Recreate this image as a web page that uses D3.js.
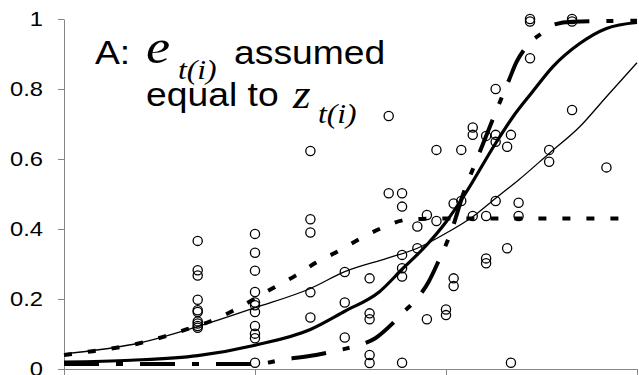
<!DOCTYPE html>
<html lang="en">
<head>
<meta charset="utf-8">
<style>
  body { margin: 0; background: white; }
  svg { background: white; }
  .axis line, .axis path { stroke: #868686; }
  .axis text { font-family: 'Liberation Sans', Arial, sans-serif; font-size: 21px; fill: black; }
  .label { font-family: 'Liberation Sans', Arial, sans-serif; font-size: 33px; fill: black; }
  .math { font-family: 'Liberation Serif', 'Times New Roman', serif; font-style: italic; fill: black; }
</style>
</head>
<body>
<svg width="639" height="375"></svg>
<script src="https://cdn.jsdelivr.net/npm/d3@7"></script>
<script>
// tick values (the x axis has no labels)
const xTicks = [0, 1, 2, 3]
const yTicks = [0, 0.2, 0.4, 0.6, 0.8, 1]

// observed points, one column per x position
const obsX = [0.70, 1.00, 1.29, 1.47, 1.60, 1.70, 1.77, 1.85, 1.90, 1.95, 2.00, 2.04, 2.08,
              2.14, 2.21, 2.26, 2.32, 2.34, 2.38, 2.44, 2.54, 2.66, 2.84]
const obsY = [
  [0.366, 0.282, 0.267, 0.198, 0.168, 0.163, 0.136, 0.130, 0.123, 0.118],
  [0.386, 0.332, 0.281, 0.220, 0.190, 0.182, 0.163, 0.123, 0.101, 0.088, 0.018],
  [0.623, 0.428, 0.390, 0.219, 0.147],
  [0.277, 0.190, 0.090],
  [0.259, 0.159, 0.142, 0.040, 0.017],
  [0.723, 0.502],
  [0.502, 0.464, 0.326, 0.288, 0.264, 0.018],
  [0.407, 0.345],
  [0.440, 0.142],
  [0.626, 0.423],
  [0.170, 0.154],
  [0.473, 0.259, 0.237],
  [0.626, 0.480],
  [0.690, 0.669, 0.437],
  [0.666, 0.437, 0.316, 0.302],
  [0.800, 0.669, 0.649, 0.480],
  [0.635, 0.345],
  [0.669, 0.018],
  [0.475, 0.437],
  [1.000, 0.993, 0.888],
  [0.626, 0.592],
  [1.000, 0.993, 0.740],
  [0.576]
]

// fitted curves
const thinX = [0, 0.4, 0.70, 1.0, 1.29, 1.47, 1.69, 1.85, 2.0, 2.14, 2.26, 2.38, 2.54, 2.70, 2.84, 3.0]
const thinY = [0.043, 0.075, 0.121, 0.175, 0.230, 0.278, 0.316, 0.345, 0.388, 0.435, 0.488, 0.540, 0.616, 0.692, 0.778, 0.875]

const thickX = [0, 0.35, 0.70, 1.0, 1.29, 1.47, 1.65, 1.77, 1.90, 2.0, 2.10, 2.26, 2.35, 2.45, 2.56, 2.70, 2.84, 3.0]
const thickY = [0.020, 0.025, 0.038, 0.068, 0.113, 0.165, 0.220, 0.285, 0.355, 0.420, 0.500, 0.645, 0.720, 0.790, 0.864, 0.930, 0.973, 0.990]

const dotX = [0, 0.15, 0.39, 0.52, 0.64, 0.76, 0.88, 1.09, 1.21, 1.32, 1.43, 1.54, 1.66, 1.79, 1.95, 2.95]
const dotY = [0.040, 0.051, 0.073, 0.092, 0.113, 0.135, 0.165, 0.230, 0.266, 0.304, 0.335, 0.369, 0.402, 0.426, 0.430, 0.430]

const dashDotX = [0, 1.0, 1.15, 1.32, 1.45, 1.55, 1.63, 1.72, 1.78, 1.83, 1.91, 1.96, 2.03, 2.09, 2.16, 2.25, 2.33, 2.37, 2.42, 2.53, 2.56, 2.66, 3.0]
const dashDotY = [0.014, 0.014, 0.027, 0.040, 0.055, 0.069, 0.088, 0.130, 0.164, 0.190, 0.250, 0.307, 0.397, 0.500, 0.597, 0.720, 0.826, 0.878, 0.920, 0.970, 0.983, 0.992, 0.995]

const width = 639
const height = 375
const margin = { top: 19, right: 2, bottom: 6, left: 64 }
const stretch = 1.13 // the original picture is a little wider than tall

const svg = d3.select("svg")

const x = d3.scaleLinear().domain([0, 3]).range([margin.left, width - margin.right])
const y = d3.scaleLinear().domain([0, 1]).range([height - margin.bottom, margin.top])

// axes
svg.append("g")
  .attr("class", "axis")
  .attr("transform", "translate(0," + y(0) + ")")
  .call(d3.axisBottom(x).tickValues(xTicks).tickSize(6).tickSizeOuter(0).tickFormat(""))

svg.append("g")
  .attr("class", "axis")
  .attr("transform", "translate(" + x(0) + ",0)")
  .call(d3.axisLeft(y).tickValues(yTicks).tickSize(6).tickSizeOuter(0)
    .tickFormat(d => d === 0 || d === 1 ? d : d3.format(".1f")(d)))
  .selectAll("text")
  .attr("x", 0)
  .attr("transform", "translate(-21,0) scale(" + stretch + ",1)")

// curves
const line = d3.line().curve(d3.curveMonotoneX).x(d => x(d[0])).y(d => y(d[1]))
const curves = [
  { xs: thinX, ys: thinY, w: 1.3, dash: null },
  { xs: thickX, ys: thickY, w: 3.2, dash: null },
  { xs: dotX, ys: dotY, w: 4, dash: "8,16" },
  { xs: dashDotX, ys: dashDotY, w: 4, dash: "35,17,7,17" }
]
svg.append("g").selectAll("path")
  .data(curves)
  .join("path")
  .attr("d", c => line(d3.zip(c.xs, c.ys)))
  .attr("fill", "none")
  .attr("stroke", "black")
  .attr("stroke-width", c => c.w)
  .attr("stroke-dasharray", c => c.dash)

// scatter
const pts = obsX.flatMap((xv, i) => obsY[i].map(v => [xv, v]))
svg.append("g").selectAll("circle")
  .data(pts)
  .join("circle")
  .attr("cx", d => x(d[0]))
  .attr("cy", d => y(d[1]))
  .attr("r", 4.6)
  .attr("fill", "none")
  .attr("stroke", "black")
  .attr("stroke-width", 1.3)

// panel label, two lines with italic math
const pieces = [
  { t: "A:", cls: "label", x: 95, y: 64, size: 33 },
  { t: "e", cls: "math", x: 146, y: 63, size: 48 },
  { t: "t(i)", cls: "math", x: 178, y: 79, size: 28 },
  { t: "assumed", cls: "label", x: 234, y: 64, size: 33 },
  { t: "equal to", cls: "label", x: 146, y: 106, size: 33 },
  { t: "z", cls: "math", x: 293, y: 108, size: 40 },
  { t: "t(i)", cls: "math", x: 318, y: 123, size: 28 }
]
svg.append("g").selectAll("text")
  .data(pieces)
  .join("text")
  .attr("class", d => d.cls)
  .style("font-size", d => d.size + "px")
  .attr("transform", d => "translate(" + d.x + "," + d.y + ") scale(" + stretch + ",1)")
  .text(d => d.t)
</script>
</body>
</html>
